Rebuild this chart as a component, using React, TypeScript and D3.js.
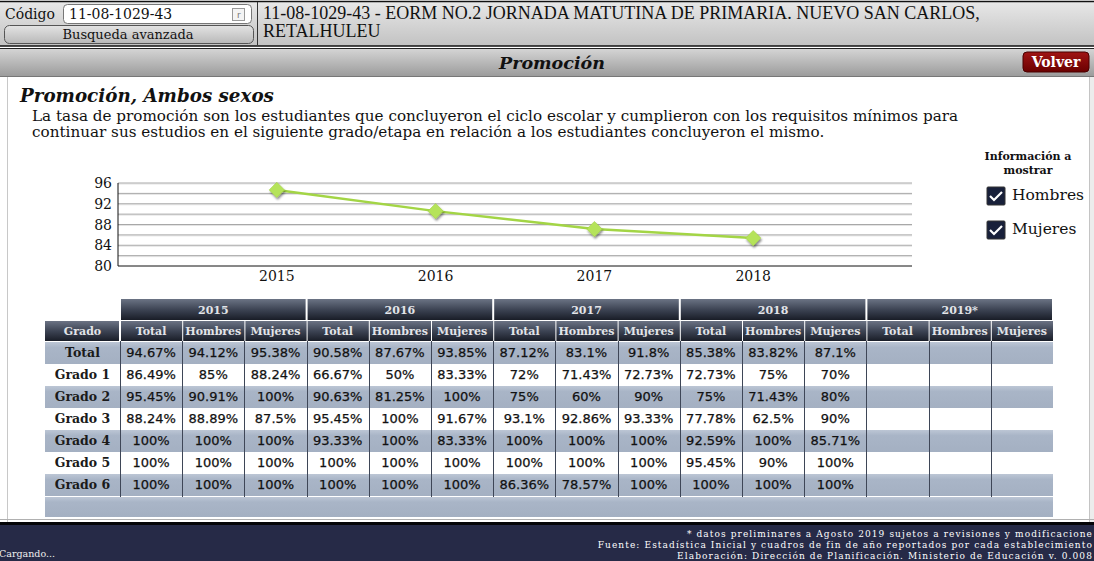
import React from 'react';
import * as d3 from 'd3';

// chart data
const years = ['2015', '2016', '2017', '2018'];
const yTicks = [80, 84, 88, 92, 96];

// table data (Total, Hombres, Mujeres) per grado row
const grados = ['Total', 'Grado 1', 'Grado 2', 'Grado 3', 'Grado 4', 'Grado 5', 'Grado 6'];
const tableYears = ['2015', '2016', '2017', '2018', '2019*'];
const subCols = ['Total', 'Hombres', 'Mujeres'];

const rows2015 = [[94.67, 94.12, 95.38], [86.49, 85, 88.24], [95.45, 90.91, 100], [88.24, 88.89, 87.5], [100, 100, 100], [100, 100, 100], [100, 100, 100]];
const rows2016 = [[90.58, 87.67, 93.85], [66.67, 50, 83.33], [90.63, 81.25, 100], [95.45, 100, 91.67], [93.33, 100, 83.33], [100, 100, 100], [100, 100, 100]];
const rows2017 = [[87.12, 83.1, 91.8], [72, 71.43, 72.73], [75, 60, 90], [93.1, 92.86, 93.33], [100, 100, 100], [100, 100, 100], [86.36, 78.57, 100]];
const rows2018 = [[85.38, 83.82, 87.1], [72.73, 75, 70], [75, 71.43, 80], [77.78, 62.5, 90], [92.59, 100, 85.71], [95.45, 90, 100], [100, 100, 100]];
const rows2019: number[][] = [];

const yearRows = [rows2015, rows2016, rows2017, rows2018, rows2019];
const promocionTotal = [rows2015[0][0], rows2016[0][0], rows2017[0][0], rows2018[0][0]];

const legendItems = ['Hombres', 'Mujeres'];

const serif = '"DejaVu Serif", serif';
const sans = '"DejaVu Sans", sans-serif';

export default function App() {
  const W = 1094;
  const H = 561;

  // line chart scales
  const x = d3.scalePoint<string>().domain(years).range([118, 912]).padding(1);
  const y = d3.scaleLinear().domain([80, 96]).range([266, 183]);
  const gridVals = d3.range(82, 97, 2);
  const line = d3.line<number>()
    .x((d, i) => x(years[i]) as number)
    .y(d => y(d));

  // table scales
  const tLeft = 45, gradoRight = 120, tRight = 1053;
  const yearX = d3.scaleBand<string>().domain(tableYears).range([gradoRight, tRight]);
  const subX = d3.scaleBand<string>().domain(subCols).range([0, yearX.bandwidth()]);
  const rowY = d3.scaleBand<string>().domain(grados).range([342, 496]);
  const headTop = 299, headMid = 320, subBottom = 341;

  const diamond = d3.symbol().type(d3.symbolDiamond2).size(150)();

  return (
    <div style={{ position: 'absolute', left: 0, top: 0 }}>
      <svg width={W} height={H} style={{ display: 'block' }}>
        <defs>
          <linearGradient id="topbar" x1="0" y1="0" x2="0" y2="1">
            <stop offset="0" stopColor="#e8e8e8" />
            <stop offset="1" stopColor="#c2c2c2" />
          </linearGradient>
          <linearGradient id="titlebar" x1="0" y1="0" x2="0" y2="1">
            <stop offset="0" stopColor="#d4d4d4" />
            <stop offset="1" stopColor="#9c9c9c" />
          </linearGradient>
          <linearGradient id="btn" x1="0" y1="0" x2="0" y2="1">
            <stop offset="0" stopColor="#e4e4e4" />
            <stop offset="1" stopColor="#b8b8b8" />
          </linearGradient>
          <linearGradient id="volver" x1="0" y1="0" x2="0" y2="1">
            <stop offset="0" stopColor="#a01414" />
            <stop offset="1" stopColor="#6a0000" />
          </linearGradient>
          <linearGradient id="thead" x1="0" y1="0" x2="0" y2="1">
            <stop offset="0" stopColor="#6b7384" />
            <stop offset="0.5" stopColor="#3d4454" />
            <stop offset="1" stopColor="#191d27" />
          </linearGradient>
          <linearGradient id="blueRow" x1="0" y1="0" x2="0" y2="1">
            <stop offset="0" stopColor="#bcc6d5" />
            <stop offset="0.25" stopColor="#a9b5c7" />
            <stop offset="1" stopColor="#a4b0c2" />
          </linearGradient>
          <filter id="shadow" x="-50%" y="-50%" width="200%" height="200%">
            <feDropShadow dx="1" dy="2" stdDeviation="1" floodColor="#000" floodOpacity="0.45" />
          </filter>
        </defs>

        {/* page background */}
        <rect x={0} y={0} width={W} height={H} fill="#ffffff" />

        {/* top header */}
        <rect x={0} y={1} width={W} height={45} fill="url(#topbar)" />
        <line x1={0} x2={W} y1={1.5} y2={1.5} stroke="#111" strokeWidth={1.5} />
        <text x={5} y={19} fontFamily={serif} fontSize={14} fill="#111">Código</text>
        <rect x={63.5} y={4.5} width={188} height={19} rx={4} fill="#fff" stroke="#777" />
        <text x={69} y={19} fontFamily={serif} fontSize={14} fill="#111">11-08-1029-43</text>
        <rect x={232.5} y={8.5} width={12} height={12} fill="#f4f4f4" stroke="#999" />
        <text x={237} y={18} fontFamily={sans} fontSize={9} fill="#777">r</text>
        <rect x={4.5} y={25.5} width={249} height={18} rx={5} fill="url(#btn)" stroke="#555" />
        <text x={128} y={39} textAnchor="middle" fontFamily={serif} fontSize={13} fill="#111">Busqueda avanzada</text>
        <line x1={257.5} x2={257.5} y1={2} y2={45} stroke="#333" />
        <text x={263} y={19} fontFamily='"Liberation Serif", serif' fontSize={18} fill="#111">
          11-08-1029-43 - EORM NO.2 JORNADA MATUTINA DE PRIMARIA. NUEVO SAN CARLOS,
        </text>
        <text x={263} y={37} fontFamily='"Liberation Serif", serif' fontSize={18} fill="#111">RETALHULEU</text>
        <line x1={0} x2={W} y1={46} y2={46} stroke="#111" strokeWidth={1.5} />
        <line x1={0} x2={W} y1={48.5} y2={48.5} stroke="#222" strokeWidth={1} />

        {/* title bar */}
        <rect x={0} y={49} width={W} height={27} fill="url(#titlebar)" />
        <line x1={0} x2={W} y1={76.5} y2={76.5} stroke="#777" />
        <text x={552} y={69} textAnchor="middle" fontFamily={serif} fontSize={17.5} fontWeight="bold" fontStyle="italic" fill="#111">Promoción</text>
        <rect x={1023} y={52} width={66} height={20} rx={4} fill="url(#volver)" stroke="#4a0000" />
        <text x={1056} y={67} textAnchor="middle" fontFamily={serif} fontSize={14} fontWeight="bold" fill="#fff">Volver</text>

        {/* content frame */}
        <line x1={7.5} x2={7.5} y1={77} y2={522} stroke="#c8c8c8" />
        <rect x={1090} y={77} width={4} height={445} fill="#ececec" />
        <line x1={1089.5} x2={1089.5} y1={77} y2={522} stroke="#c4c4c4" />

        <text x={20} y={102} fontFamily={serif} fontSize={18.3} fontWeight="bold" fontStyle="italic" fill="#111">Promoción, Ambos sexos</text>
        <text x={32} y={121} fontFamily={serif} fontSize={15.2} fill="#111">
          La tasa de promoción son los estudiantes que concluyeron el ciclo escolar y cumplieron con los requisitos mínimos para
        </text>
        <text x={32} y={137} fontFamily={serif} fontSize={15.2} fill="#111">
          continuar sus estudios en el siguiente grado/etapa en relación a los estudiantes concluyeron el mismo.
        </text>

        {/* line chart */}
        <g>
          {gridVals.map(v => (
            <g key={v}>
              <line x1={118} x2={912} y1={y(v) + 1} y2={y(v) + 1} stroke="#e4e4e4" />
              <line x1={118} x2={912} y1={y(v)} y2={y(v)} stroke="#a8a8a8" />
            </g>
          ))}
          <line x1={118} x2={118} y1={y(96)} y2={y(80)} stroke="#111" />
          <line x1={118} x2={912} y1={y(80)} y2={y(80)} stroke="#111" />
          {yTicks.map(t => (
            <text key={t} x={112} y={y(t) + 5} textAnchor="end" fontFamily={serif} fontSize={14} fill="#111">{t}</text>
          ))}
          {years.map(yr => (
            <text key={yr} x={x(yr)} y={281} textAnchor="middle" fontFamily={serif} fontSize={14} fill="#111">{yr}</text>
          ))}
          <path d={line(promocionTotal) || ''} fill="none" stroke="#a3d545" strokeWidth={2.5} />
          {promocionTotal.map((v, i) => (
            <path key={i} d={diamond || ''} transform={`translate(${x(years[i])},${y(v)})`}
              fill="#b5e35a" stroke="#9ccc3e" strokeWidth={0.5} filter="url(#shadow)" />
          ))}
        </g>

        {/* legend */}
        <text x={1028} y={160} textAnchor="middle" fontFamily={serif} fontSize={11} fontWeight="bold" fill="#111">Información a</text>
        <text x={1028} y={174} textAnchor="middle" fontFamily={serif} fontSize={11} fontWeight="bold" fill="#111">mostrar</text>
        {legendItems.map((lab, i) => {
          const cy = 187 + i * 34;
          return (
            <g key={lab}>
              <rect x={987} y={cy} width={18} height={18} rx={1} fill="#18203a" stroke="#333" />
              <path d={`M${990},${cy + 9} L${994},${cy + 13} L${1002},${cy + 5}`} fill="none" stroke="#fff" strokeWidth={2.2} />
              <text x={1012} y={cy + 13} fontFamily={serif} fontSize={15.5} fill="#111">{lab}</text>
            </g>
          );
        })}

        {/* table */}
        <g>
          {/* year header row */}
          {tableYears.map(yr => (
            <g key={yr}>
              <rect x={(yearX(yr) as number) + 1} y={headTop} width={yearX.bandwidth() - 2} height={headMid - headTop} fill="url(#thead)" />
              <text x={(yearX(yr) as number) + yearX.bandwidth() / 2} y={headTop + 15} textAnchor="middle"
                fontFamily={serif} fontSize={11} fontWeight="bold" fill="#e2e4e8">{yr}</text>
            </g>
          ))}
          {/* sub header row */}
          <rect x={tLeft} y={headMid + 1} width={gradoRight - tLeft - 1} height={subBottom - headMid - 1} fill="url(#thead)" />
          <text x={(tLeft + gradoRight) / 2} y={headMid + 15} textAnchor="middle" fontFamily={serif} fontSize={11} fontWeight="bold" fill="#e2e4e8">Grado</text>
          {tableYears.map(yr => subCols.map(c => {
            const cx = (yearX(yr) as number) + (subX(c) as number);
            return (
              <g key={yr + c}>
                <rect x={cx + 1} y={headMid + 1} width={subX.bandwidth() - 1} height={subBottom - headMid - 1} fill="url(#thead)" />
                <text x={cx + subX.bandwidth() / 2} y={headMid + 15} textAnchor="middle"
                  fontFamily={serif} fontSize={11} fontWeight="bold" fill="#e2e4e8">{c}</text>
              </g>
            );
          }))}
          {/* body rows */}
          {grados.map((g, ri) => {
            const ry = rowY(g) as number;
            const blue = ri % 2 === 0;
            return (
              <g key={g}>
                {blue && <rect x={tLeft} y={ry} width={tRight - tLeft} height={rowY.bandwidth()} fill="url(#blueRow)" />}
                <text x={(tLeft + gradoRight) / 2} y={ry + 15} textAnchor="middle" fontFamily={serif} fontSize={12.5} fontWeight="bold" fill="#1a1a1a">{g}</text>
                {tableYears.map((yr, yi) => subCols.map((c, ci) => {
                  const row = yearRows[yi][ri];
                  if (!row) return null;
                  const cx = (yearX(yr) as number) + (subX(c) as number) + subX.bandwidth() / 2;
                  return (
                    <text key={yr + c} x={cx} y={ry + 15} textAnchor="middle" fontFamily={sans} fontSize={13}
                      fill="#111" stroke="#111" strokeWidth={0.25}>{row[ci] + '%'}</text>
                  );
                }))}
              </g>
            );
          })}
          {/* footer row */}
          <rect x={tLeft} y={497} width={tRight - tLeft} height={20} fill="url(#blueRow)" />
          {/* column lines */}
          {[gradoRight, ...tableYears.flatMap(yr => subCols.map(c => (yearX(yr) as number) + (subX(c) as number))).slice(1)].map((cx, i) => (
            <line key={i} x1={Math.round(cx) + 0.5} x2={Math.round(cx) + 0.5} y1={subBottom} y2={497} stroke="#3e4657" />
          ))}
        </g>

        {/* footer */}
        <line x1={0} x2={W} y1={519.5} y2={519.5} stroke="#b0b0b0" />
        <rect x={0} y={522} width={W} height={39} fill="#262a47" />
        <rect x={0} y={522} width={W} height={3} fill="#050508" />
        <text x={-1} y={557} fontFamily={serif} fontSize={9.5} fill="#f0f0f0">Cargando...</text>
        <text x={1093} y={537} textAnchor="end" fontFamily={serif} fontSize={9} letterSpacing={1.1} fill="#fff">*  datos preliminares a Agosto 2019 sujetos a revisiones y modificacione</text>
        <text x={1093} y={548} textAnchor="end" fontFamily={serif} fontSize={9} letterSpacing={1.1} fill="#fff">Fuente:  Estadística Inicial y cuadros de fin de año reportados por cada establecimiento</text>
        <text x={1093} y={559} textAnchor="end" fontFamily={serif} fontSize={9} letterSpacing={1.1} fill="#fff">Elaboración: Dirección de Planificación. Ministerio de Educación v. 0.008</text>
      </svg>
    </div>
  );
}
